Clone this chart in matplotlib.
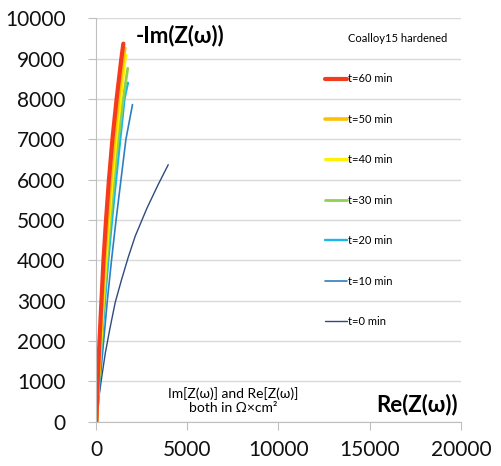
import matplotlib
matplotlib.use("Agg")
import matplotlib.pyplot as plt
from matplotlib.lines import Line2D

plt.rcParams['font.family'] = ['Lato', 'DejaVu Sans']

# Nyquist data, Re(Z) and -Im(Z) in Ohm*cm2
labels = ['t=0 min', 't=10 min', 't=20 min', 't=30 min', 't=40 min', 't=50 min', 't=60 min']
colors = ['#2F4A7E', '#2E7EC1', '#1BB6EA', '#92D050', '#FFF200', '#FFC000', '#F53B1E']
widths = [1.0, 1.2, 1.7, 2.0, 2.3, 2.6, 3.0]

re_t0 = [0, 120, 290, 510, 750, 1050, 1400, 1770, 2150, 2800, 3400, 3960]
im_t0 = [0, 480, 1030, 1700, 2280, 2950, 3520, 4080, 4600, 5300, 5870, 6370]
re_t10 = [60, 220, 420, 620, 850, 1100, 1370, 1640, 2000]
im_t10 = [0, 1000, 2000, 3000, 4000, 5000, 6000, 7000, 7860]
re_t20 = [50, 170, 330, 490, 670, 880, 1100, 1330, 1560, 1750]
im_t20 = [0, 1000, 2000, 3000, 4000, 5000, 6000, 7000, 8000, 8400]
re_t30 = [40, 150, 290, 430, 600, 790, 990, 1220, 1490, 1740]
im_t30 = [0, 1000, 2000, 3000, 4000, 5000, 6000, 7000, 8000, 8760]
re_t40 = [40, 130, 260, 390, 540, 710, 890, 1100, 1340, 1600, 1650]
im_t40 = [0, 1000, 2000, 3000, 4000, 5000, 6000, 7000, 8000, 9000, 9080]
re_t50 = [30, 110, 220, 340, 470, 630, 800, 1000, 1220, 1490, 1580]
im_t50 = [0, 1000, 2000, 3000, 4000, 5000, 6000, 7000, 8000, 9000, 9260]
re_t60 = [20, 90, 190, 300, 410, 550, 710, 900, 1130, 1390, 1500]
im_t60 = [0, 1000, 2000, 3000, 4000, 5000, 6000, 7000, 8000, 9000, 9370]

series_re = [re_t0, re_t10, re_t20, re_t30, re_t40, re_t50, re_t60]
series_im = [im_t0, im_t10, im_t20, im_t30, im_t40, im_t50, im_t60]

fig = plt.figure(figsize=(5.01, 4.66), dpi=100)
ax = fig.add_axes([0.1916, 0.095, 0.7284, 0.8659])

lines = []
for x, y, c, w, lab in zip(series_re, series_im, colors, widths, labels):
    ln, = ax.plot(x, y, color=c, lw=w, label=lab, solid_capstyle='round')
    lines.append(ln)

ax.set_xlim(0, 20000)
ax.set_ylim(0, 10000)
ax.set_xticks([0, 5000, 10000, 15000, 20000])
ax.set_yticks(range(0, 10001, 1000))
ax.grid(True, axis='y', color='#D9D9D9', lw=1)
ax.set_axisbelow(True)
for s in ['top', 'right']:
    ax.spines[s].set_visible(False)
for s in ['left', 'bottom']:
    ax.spines[s].set_color('#BFBFBF')
ax.tick_params(axis='both', colors='#BFBFBF', labelcolor='#111111', labelsize=15, length=6)
ax.tick_params(axis='y', pad=16)
ax.tick_params(axis='x', pad=7)

ax.text(0.11, 0.957, '-Im(Z(\u03c9))', transform=ax.transAxes, fontsize=16,
        fontweight='bold', va='center', ha='left')
ax.text(0.993, 0.043, 'Re(Z(\u03c9))', transform=ax.transAxes, fontsize=16,
        fontweight='bold', va='center', ha='right')
ax.text(0.375, 0.053, 'Im[Z(\u03c9)] and Re[Z(\u03c9)]\nboth in \u03a9\u00d7cm\u00b2',
        transform=ax.transAxes, fontsize=10, ha='center', va='center', linespacing=1.25)

blank = Line2D([], [], color='none')
handles = [blank] + lines[::-1]
names = ['Coalloy15 hardened'] + labels[::-1]
ax.legend(handles, names, loc='upper left', bbox_to_anchor=(325 / 501, 1 - 33 / 466),
          bbox_transform=fig.transFigure, frameon=False, fontsize=8,
          handlelength=2.0, handletextpad=0.1, borderpad=0, borderaxespad=0,
          labelspacing=2.65)

fig.savefig('out.png', dpi=100)
